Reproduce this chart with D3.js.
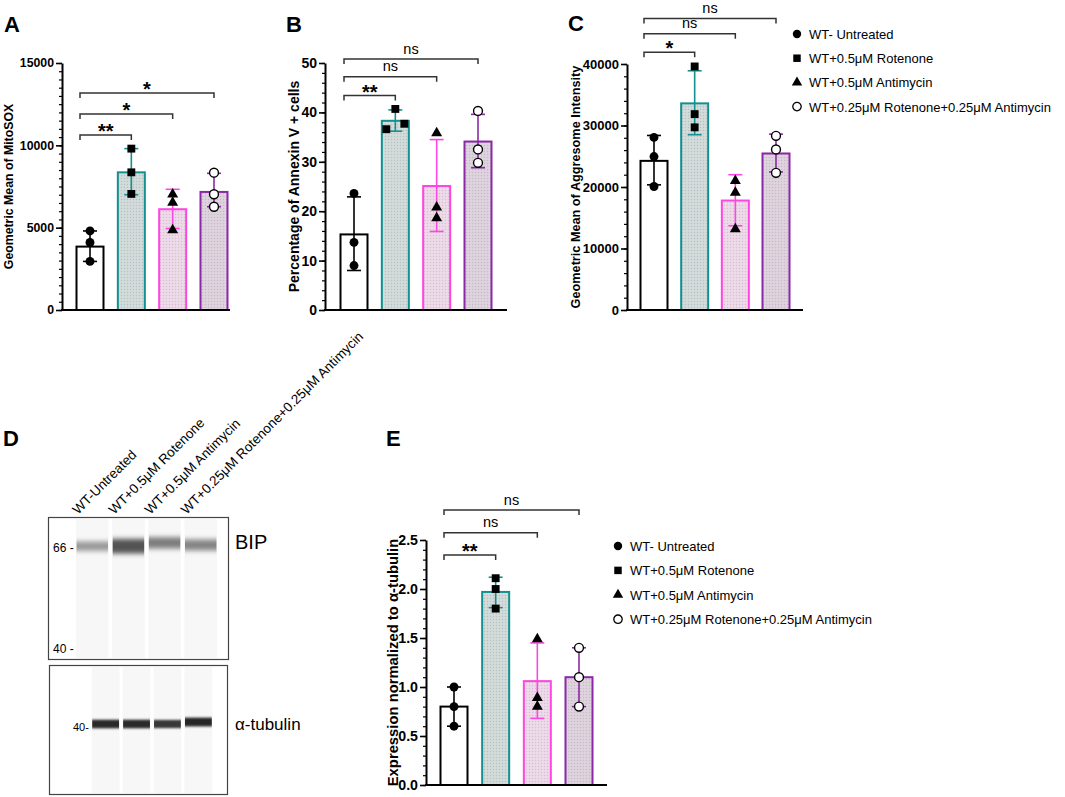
<!DOCTYPE html>
<html>
<head>
<meta charset="utf-8">
<script src="https://cdn.jsdelivr.net/npm/d3@7"></script>
<style>
  body { margin: 0; background: #fff; }
  text { font-family: "Liberation Sans", Arial, sans-serif; }
</style>
</head>
<body>
<svg id="fig" width="1065" height="797"></svg>
<script>
// groups, same order in every panel
const groups = ["WT- Untreated", "WT+0.5μM Rotenone", "WT+0.5μM Antimycin", "WT+0.25μM Rotenone+0.25μM Antimycin"];
const laneLabels = ["WT-Untreated", "WT+0.5μM Rotenone", "WT+0.5μM Antimycin", "WT+0.25μM Rotenone+0.25μM Antimycin"];

// A - MitoSOX
const mitoMean = [3850, 8360, 6120, 7170];
const mitoErr = [[2950, 4800], [7000, 9800], [4950, 7330], [6270, 8300]];
const mitoPts = [[4800, 4100, 2950], [9800, 8360, 7050], [7030, 6520, 4850], [8340, 7030, 6270]];
const mitoSig = ["**", "*", "*"];

// B - Annexin V
const annexMean = [15.3, 38.3, 25.1, 34.1];
const annexErr = [[8.0, 22.9], [36.2, 40.5], [15.9, 34.5], [28.8, 39.6]];
const annexPts = [[23.6, 13.7, 9.0], [40.7, 36.6, 37.7], [35.8, 20.8, 18.6], [40.3, 32.5, 29.8]];
const annexSig = ["**", "ns", "ns"];

// C - Aggresome
const aggMean = [24250, 33600, 17800, 25450];
const aggErr = [[20350, 28380], [28500, 38900], [13700, 22000], [22450, 28600]];
const aggPts = [[28060, 24950, 20080], [39600, 31850, 29700], [21000, 19100, 13150], [28330, 26100, 22300]];
const aggSig = ["*", "ns", "ns"];

// E - BIP / alpha-tubulin
const bipMean = [0.80, 1.97, 1.06, 1.10];
const bipErr = [[0.60, 1.00], [1.81, 2.12], [0.68, 1.45], [0.80, 1.40]];
const bipPts = [[1.00, 0.80, 0.60], [2.11, 2.00, 1.80], [1.49, 0.89, 0.80], [1.40, 1.10, 0.80]];
const bipSig = ["**", "ns", "ns"];

// D - blot bands
const bipKda = [66.6, 66.6, 67.7, 67.0];
const bipLevel = [0.52, 0.78, 0.62, 0.6];
const tubKda = [40.6, 40.6, 40.6, 41.0];
const tubLevel = [0.86, 0.86, 0.82, 0.88];
const markerKda = [66, 40];

const strokes = ["#000", "#13918f", "#ff45e3", "#8c27a8"];
const shapes = [d3.symbolCircle, d3.symbolSquare, d3.symbolTriangle, d3.symbolCircle];
const shapeSize = [62, 62, 52, 62];
const shapeFill = ["#000", "#000", "#000", "#fff"];
const barW = 27;

const svg = d3.select("#fig");
const defs = svg.append("defs");

function dots(id, base, dot) {
  const p = defs.append("pattern").attr("id", id)
    .attr("width", 3).attr("height", 3).attr("patternUnits", "userSpaceOnUse");
  p.append("rect").attr("width", 3).attr("height", 3).attr("fill", base);
  p.append("circle").attr("cx", 1.5).attr("cy", 1.5).attr("r", 0.75).attr("fill", dot);
}
dots("pt", "#d3dcdb", "#b6c2c1");
dots("pp", "#eedbe9", "#d7bfd2");
dots("pv", "#ded4de", "#c7b9c6");
const fills = ["#fff", "url(#pt)", "url(#pp)", "url(#pv)"];

const blurB = defs.append("filter").attr("id", "blurB")
  .attr("x", "-10%").attr("y", "-100%").attr("width", "120%").attr("height", "300%");
blurB.append("feGaussianBlur").attr("stdDeviation", "0.4 2.6");
const blurT = defs.append("filter").attr("id", "blurT")
  .attr("x", "-10%").attr("y", "-100%").attr("width", "120%").attr("height", "300%");
blurT.append("feGaussianBlur").attr("stdDeviation", "0.3 1.1");

function barPanel(p) {
  const x = d3.scalePoint().domain(groups).range(p.xr);
  const y = d3.scaleLinear().domain(p.dom).range(p.yr);
  const g = svg.append("g");

  // bars
  g.selectAll(".bar").data(p.mean).join("rect")
    .attr("x", (d, i) => x(groups[i]) - barW / 2)
    .attr("y", d => y(d))
    .attr("width", barW)
    .attr("height", d => y(0) - y(d))
    .attr("fill", (d, i) => fills[i])
    .attr("stroke", (d, i) => strokes[i])
    .attr("stroke-width", 2);

  // error bars
  p.err.forEach((e, i) => {
    const cx = x(groups[i]);
    g.append("line").attr("x1", cx).attr("x2", cx).attr("y1", y(e[0])).attr("y2", y(e[1]))
      .attr("stroke", strokes[i]).attr("stroke-width", 1.6);
    e.forEach(v => g.append("line").attr("x1", cx - 7).attr("x2", cx + 7).attr("y1", y(v)).attr("y2", y(v))
      .attr("stroke", strokes[i]).attr("stroke-width", 1.6));
  });

  // points
  p.pts.forEach((arr, i) => {
    const jit = (p.jitter && p.jitter[i]) || [0, 0, 0];
    g.selectAll(null).data(arr).join("path")
      .attr("d", d3.symbol().type(shapes[i]).size(shapeSize[i]))
      .attr("transform", (d, k) => `translate(${x(groups[i]) + jit[k]},${y(d)})`)
      .attr("fill", shapeFill[i])
      .attr("stroke", "#000")
      .attr("stroke-width", i === 3 ? 1.4 : 0);
  });

  // axes
  const top = p.dom[1];
  const minor = g.append("g").attr("transform", `translate(${p.ax},0)`)
    .call(d3.axisLeft(y).tickValues(d3.range(0, top + 1e-9, p.minor)).tickSize(3).tickFormat(""));
  minor.select(".domain").remove();
  minor.selectAll("line").attr("stroke-width", 1.2);
  const major = g.append("g").attr("transform", `translate(${p.ax},0)`)
    .call(d3.axisLeft(y).tickValues(d3.range(0, top + 1e-9, p.major)).tickSize(6).tickSizeOuter(0)
      .tickPadding(2).tickFormat(p.fmt));
  major.select(".domain").attr("stroke-width", 2);
  major.selectAll("line").attr("stroke-width", 1.6);
  major.selectAll("text").attr("font-size", p.tickFs).attr("font-weight", "bold").attr("fill", "#000")
    .attr("font-family", '"Liberation Sans", Arial, sans-serif');
  g.append("line").attr("x1", p.ax - 1).attr("x2", p.xEnd).attr("y1", y(0)).attr("y2", y(0))
    .attr("stroke", "#000").attr("stroke-width", 2);

  // y title
  g.append("text")
    .attr("transform", `translate(${p.tx},${(p.yr[0] + p.yr[1]) / 2}) rotate(-90)`)
    .attr("text-anchor", "middle").attr("font-size", p.titleFs).attr("font-weight", "bold")
    .text(p.title);

  // significance brackets
  p.sig.forEach((s, k) => {
    const by = y(p.br[k]);
    const x1 = x(groups[0]) - 10, x2 = x(groups[k + 1]);
    g.append("path").attr("d", `M${x1},${by + 5}V${by}H${x2}V${by + 5}`)
      .attr("fill", "none").attr("stroke", "#333").attr("stroke-width", 1.5);
    const star = s !== "ns";
    g.append("text").attr("x", (x1 + x2) / 2).attr("y", star ? by + 3 : by - 5.5)
      .attr("text-anchor", "middle")
      .attr("font-size", star ? 20 : 14.5).attr("font-weight", star ? "bold" : "normal")
      .text(s);
  });

  svg.append("text").attr("x", p.lx).attr("y", p.ly).attr("font-size", 22).attr("font-weight", "bold").text(p.letter);
}

const intFmt = d3.format("d");
barPanel({ letter: "A", lx: 4, ly: 32, mean: mitoMean, err: mitoErr, pts: mitoPts, sig: mitoSig,
  dom: [0, 15000], yr: [310, 63], ax: 62, xEnd: 230, xr: [90, 214], major: 5000, minor: 500, fmt: intFmt,
  title: "Geometric Mean of MitoSOX", tx: 13, tickFs: 12.3, titleFs: 12.3, br: [10630, 11900, 13180] });
barPanel({ letter: "B", lx: 286, ly: 32, mean: annexMean, err: annexErr, pts: annexPts, sig: annexSig,
  dom: [0, 50], yr: [310, 63], ax: 325, xEnd: 507, xr: [354, 478], major: 10, minor: 2, fmt: intFmt,
  title: "Percentage of Annexin V + cells", tx: 299, tickFs: 14, titleFs: 14, br: [43.4, 47.2, 50.8],
  jitter: { 1: [0, -9, 9] } });
barPanel({ letter: "C", lx: 568, ly: 31, mean: aggMean, err: aggErr, pts: aggPts, sig: aggSig,
  dom: [0, 40000], yr: [310, 64], ax: 627, xEnd: 803, xr: [654, 776], major: 10000, minor: 2000, fmt: intFmt,
  title: "Geometric Mean of Aggresome Intensity", tx: 580, tickFs: 13, titleFs: 12.7, br: [41900, 44900, 47400] });
barPanel({ letter: "E", lx: 386, ly: 446, mean: bipMean, err: bipErr, pts: bipPts, sig: bipSig,
  dom: [0, 2.5], yr: [785, 540], ax: 426, xEnd: 607, xr: [454, 579], major: 0.5, minor: 0.1, fmt: d3.format(".1f"),
  title: "Expression normalized to α-tubulin", tx: 398, tickFs: 14.2, titleFs: 14.8, br: [2.347, 2.574, 2.806] });

// legends
function legend(x0, y0, step) {
  const g = svg.append("g");
  groups.forEach((name, i) => {
    g.append("path").attr("d", d3.symbol().type(shapes[i]).size(shapeSize[i] * 0.9)())
      .attr("transform", `translate(${x0},${y0 + i * step})`)
      .attr("fill", shapeFill[i]).attr("stroke", "#000").attr("stroke-width", i === 3 ? 1.3 : 0);
    g.append("text").attr("x", x0 + 12).attr("y", y0 + i * step + 5)
      .attr("font-size", 13).text(name);
  });
}
legend(797, 34, 24.2);
legend(618, 546, 24.4);

// D - blot
svg.append("text").attr("x", 3).attr("y", 446).attr("font-size", 22).attr("font-weight", "bold").text("D");

const laneTop = d3.scaleBand().domain(laneLabels).range([76, 217]).paddingInner(0.1);
const laneBot = d3.scaleBand().domain(laneLabels).range([91.7, 212.3]).paddingInner(0.1);
const yBip = d3.scaleLog().domain([40, 66]).range([649, 548]);
const yTub = d3.scaleLog().domain([40, 66]).range([727, 626]);

const blot = svg.append("g");
blot.selectAll(".laneA").data(laneLabels).join("rect")
  .attr("x", d => laneTop(d)).attr("y", 519).attr("width", laneTop.bandwidth()).attr("height", 139)
  .attr("fill", "#f7f7f7");
blot.selectAll(".laneB").data(laneLabels).join("rect")
  .attr("x", d => laneBot(d)).attr("y", 667).attr("width", laneBot.bandwidth()).attr("height", 126)
  .attr("fill", "#f7f7f7");

blot.selectAll(".bip").data(laneLabels).join("rect")
  .attr("x", d => laneTop(d) + 0.5)
  .attr("width", laneTop.bandwidth() - 1)
  .attr("y", (d, i) => yBip(bipKda[i]) - (20 * bipLevel[i] - 1) / 2)
  .attr("height", (d, i) => 20 * bipLevel[i] - 1)
  .attr("fill", (d, i) => d3.interpolateGreys(bipLevel[i] * 0.95))
  .attr("filter", "url(#blurB)");

blot.selectAll(".tub").data(laneLabels).join("rect")
  .attr("x", d => laneBot(d) + 0.5)
  .attr("width", laneBot.bandwidth() - 1)
  .attr("y", (d, i) => yTub(tubKda[i]) - 10 * tubLevel[i] / 2)
  .attr("height", (d, i) => 10 * tubLevel[i])
  .attr("fill", (d, i) => d3.interpolateGreys(tubLevel[i]))
  .attr("filter", "url(#blurT)");

blot.append("rect").attr("x", 48.5).attr("y", 517.5).attr("width", 180).attr("height", 142)
  .attr("fill", "none").attr("stroke", "#444").attr("stroke-width", 1.2);
blot.append("rect").attr("x", 49.5).attr("y", 665.5).attr("width", 178).attr("height", 129)
  .attr("fill", "none").attr("stroke", "#444").attr("stroke-width", 1.2);

blot.selectAll(".mk").data(markerKda).join("text")
  .attr("x", 53).attr("y", d => yBip(d) + 4).attr("font-size", 12).text(d => d + " -");
blot.append("text").attr("x", 73).attr("y", yTub(40) + 4).attr("font-size", 11).text("40-");

blot.selectAll(".ll").data(laneLabels).join("text")
  .attr("transform", d => `translate(${laneTop(d) + 2},515) rotate(-45)`)
  .attr("font-size", 13.5).text(d => d);

blot.append("text").attr("x", 235).attr("y", 549).attr("font-size", 20).text("BIP");
blot.append("text").attr("x", 235).attr("y", 730).attr("font-size", 17).text("α-tubulin");
</script>
</body>
</html>
